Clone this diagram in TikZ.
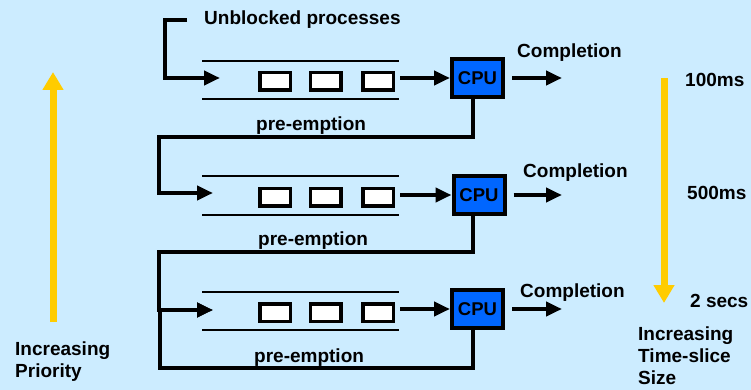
\documentclass[tikz,border=0pt]{standalone}
\usepackage{fontspec}
\setmainfont{Liberation Sans}
\usepackage{xcolor}
\definecolor{schedbg}{RGB}{204,236,255}
\definecolor{schedcpu}{RGB}{0,102,255}
\definecolor{schedgold}{RGB}{255,204,0}
\usetikzlibrary{arrows.meta,positioning}
\tikzset{
  sched cpu/.style={draw, fill=schedcpu, line width=4pt, minimum width=51pt, minimum height=38pt, inner sep=0pt, font=\fontsize{18.5}{20}\selectfont\bfseries},
  sched job/.style={draw, fill=white, line width=3.5pt, minimum width=30.5pt, minimum height=17.5pt, inner sep=0pt},
  sched label/.style={inner sep=0pt, font=\fontsize{19}{22}\selectfont\bfseries},
  sched edge/.style={-{Triangle[length=16pt, width=14pt]}, line width=4pt},
  sched rail/.style={line width=1.8pt},
  sched scale/.style={-{Triangle[length=18pt, width=20pt]}, line width=7pt, draw=schedgold, fill=schedgold},
}

\begin{document}
\begin{tikzpicture}[x=1pt, y=-1pt]
  \fill[schedbg] (0,0) rectangle (751,390);
  \useasboundingbox (0,0) rectangle (751,390);
  % queue 1
  \draw[sched rail] (202,61) -- (399,61) (202,99) -- (399,99);
  \node[sched job] (j11) at (275,81.5) {};
  \node[sched job] (j12) at (325.5,81.5) {};
  \node[sched job] (j13) at (378,81.5) {};
  \node[sched cpu] (cpu1) at (477.5,78) {CPU};
  \coordinate (unb) at (187,20); \coordinate (q1in) at (220,78); \coordinate (done1) at (562,78);
  \node[sched label, anchor=base west] (unblab) at (204,25) {Unblocked processes};
  \draw[sched edge] (unb) -| (165,78) -- (q1in);
  \draw[sched edge, shorten <=5pt] (j13.east |- cpu1) -- (cpu1);
  \draw[sched edge, shorten <=7pt] (cpu1) -- (done1);
  \node[sched label, anchor=base west] (comp1) at (517,58) {Completion};
  \node[sched label, anchor=base west] (pre1) at (256,131) {pre-emption};
  % queue 2
  \draw[sched rail] (202,176) -- (399,176) (202,215) -- (399,215);
  \node[sched job] (j21) at (275,197) {};
  \node[sched job] (j22) at (325.5,197) {};
  \node[sched job] (j23) at (378,197) {};
  \node[sched cpu] (cpu2) at (479,195) {CPU};
  \coordinate (q2in) at (213,193); \coordinate (done2) at (562,195);
  \draw[sched edge] ([xshift=-4.5pt]cpu1.south) |- (159,137) |- (q2in);
  \draw[sched edge, shorten <=5pt] (j23.east |- cpu2) -- (cpu2);
  \draw[sched edge, shorten <=7pt] (cpu2) -- (done2);
  \node[sched label, anchor=base west] (comp2) at (523,177) {Completion};
  \node[sched label, anchor=base west] (pre2) at (258,245) {pre-emption};
  % queue 3
  \draw[sched rail] (202,292) -- (399,292) (202,330) -- (399,330);
  \node[sched job] (j31) at (275,312.5) {};
  \node[sched job] (j32) at (325.5,312.5) {};
  \node[sched job] (j33) at (378,312.5) {};
  \node[sched cpu] (cpu3) at (477.5,309) {CPU};
  \coordinate (q3in) at (213,310); \coordinate (done3) at (562,309);
  \draw[sched edge] ([xshift=-6pt]cpu2.south) |- (159,252) |- (q3in);
  \draw[sched edge] ([xshift=-4.5pt]cpu3.south) |- (160,368) |- (q3in);
  \draw[sched edge, shorten <=5pt] (j33.east |- cpu3) -- (cpu3);
  \draw[sched edge, shorten <=7pt] (cpu3) -- (done3);
  \node[sched label, anchor=base west] (comp3) at (520,297) {Completion};
  \node[sched label, anchor=base west] (pre3) at (254,362) {pre-emption};
  % priority and time slice scales
  \coordinate (prio lo) at (53,322); \coordinate (prio hi) at (53,72);
  \draw[sched scale] (prio lo) -- (prio hi);
  \node[sched label, anchor=north west, align=left] (priolab) at (15,342) {Increasing\\Priority};
  \coordinate (slice lo) at (664,78); \coordinate (slice hi) at (664,303);
  \draw[sched scale] (slice lo) -- (slice hi);
  \node[sched label, anchor=base west] (t100) at (685,87) {100ms};
  \node[sched label, anchor=base west] (t500) at (687,199) {500ms};
  \node[sched label, anchor=base west] (t2s) at (690,307) {2 secs};
  \node[sched label, anchor=north west, align=left] (slicelab) at (638,327) {Increasing\\Time-slice\\Size};
\end{tikzpicture}
\end{document}
